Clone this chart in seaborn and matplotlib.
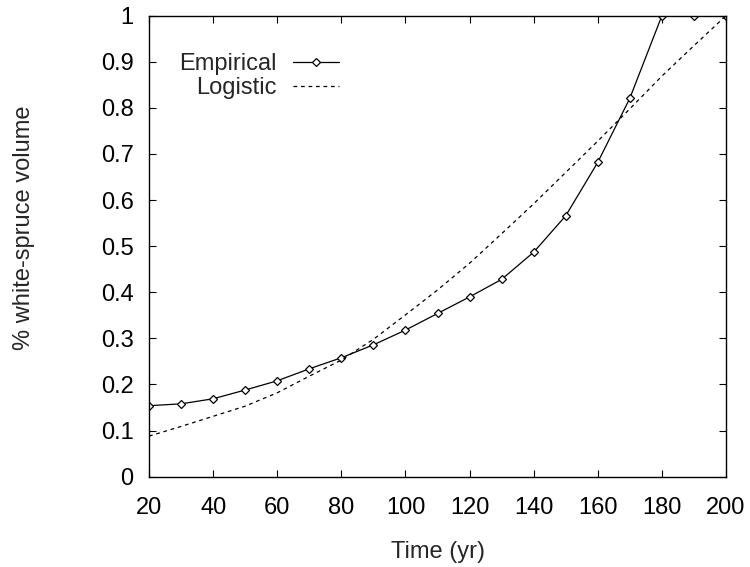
import matplotlib
matplotlib.use("Agg")
import matplotlib.pyplot as plt
import seaborn as sns
import pandas as pd
from matplotlib.ticker import FormatStrFormatter

# Data
years = [20, 30, 40, 50, 60, 70, 80, 90, 100, 110, 120, 130, 140, 150, 160, 170, 180, 190, 200]
empirical = [0.154, 0.158, 0.169, 0.188, 0.208, 0.234, 0.258, 0.286, 0.318, 0.354,
             0.390, 0.428, 0.487, 0.566, 0.682, 0.821, 1.0, 1.0, 1.0]
logistic = [0.088, 0.109, 0.131, 0.153, 0.182, 0.218, 0.253, 0.298, 0.351, 0.405,
            0.463, 0.527, 0.592, 0.660, 0.728, 0.798, 0.869, 0.935, 1.0]
x_ticks = [20, 40, 60, 80, 100, 120, 140, 160, 180, 200]
y_ticks = [0, 0.1, 0.2, 0.3, 0.4, 0.5, 0.6, 0.7, 0.8, 0.9, 1]

df = pd.DataFrame({"Time": years, "Empirical": empirical, "Logistic": logistic})

sns.set_style("ticks")
plt.rcParams["font.family"] = ["Liberation Sans", "DejaVu Sans"]
fs = 17

fig = plt.figure(figsize=(7.5, 5.67), dpi=100)
ax = fig.add_axes([0.1987, 0.1593, 0.7693, 0.8130])

sns.lineplot(data=df, x="Time", y="Empirical", ax=ax, color="black", linewidth=0.9,
             marker="D", markersize=4.5, markerfacecolor="white", markeredgecolor="black",
             markeredgewidth=0.9, label="Empirical")
sns.lineplot(data=df, x="Time", y="Logistic", ax=ax, color="black", linewidth=0.9,
             linestyle=(0, (3, 3)), label="Logistic")

ax.set_xlim(20, 200)
ax.set_ylim(0, 1)
ax.set_xticks(x_ticks)
ax.set_yticks(y_ticks)
ax.yaxis.set_major_formatter(FormatStrFormatter("%g"))
ax.tick_params(direction="in", length=5, width=0.8, top=True, right=True,
               labelsize=fs, colors="black")
ax.tick_params(axis="x", pad=14.5)
ax.tick_params(axis="y", pad=11)
for s in ax.spines.values():
    s.set_visible(True)
    s.set_linewidth(1.0)
    s.set_color("black")

ax.set_xlabel("Time (yr)", fontsize=fs, labelpad=16)
ax.set_ylabel("% white-spruce volume", fontsize=fs)
# gnuplot puts the y label a bit above the axis centre
ax.yaxis.set_label_coords(-0.1976, 0.5395)

ax.legend(loc="upper right", bbox_to_anchor=(0.329, 0.919), frameon=False, markerfirst=False,
          handlelength=1.95, handletextpad=0.68, labelspacing=0.1, fontsize=fs,
          borderpad=0.0, borderaxespad=0.0)

fig.savefig("out.png", dpi=100)
